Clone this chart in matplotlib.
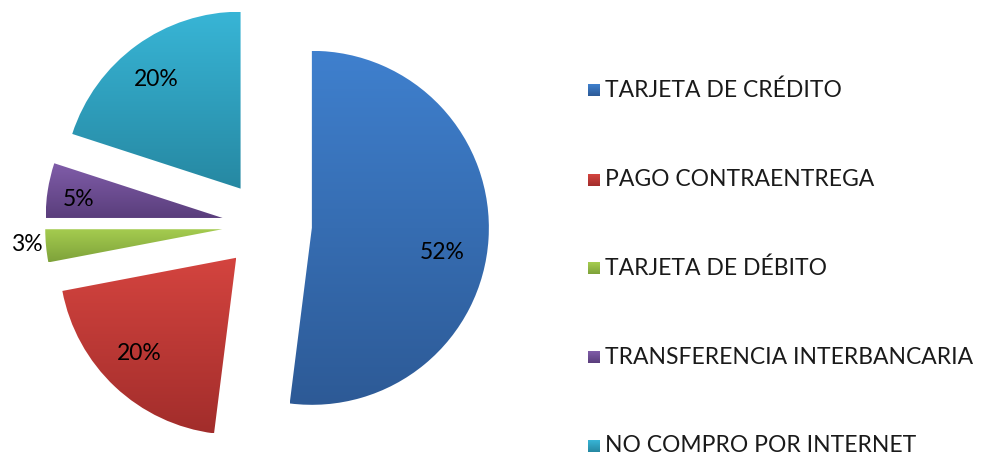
import matplotlib
matplotlib.use('Agg')
import matplotlib.pyplot as plt
import numpy as np
from matplotlib.colors import LinearSegmentedColormap

# data
labels = ['TARJETA DE CRÉDITO', 'PAGO CONTRAENTREGA', 'TARJETA DE DÉBITO',
          'TRANSFERENCIA INTERBANCARIA', 'NO COMPRO POR INTERNET']
values = [52, 20, 3, 5, 20]
pct_text = ['52%', '20%', '3%', '5%', '20%']

# gradient colours (top, bottom) per slice
grad = [('#3f80ce', '#2d5a96'),
        ('#d4443f', '#a22d2b'),
        ('#a6cd50', '#7ea23a'),
        ('#805da9', '#5a3e7c'),
        ('#38b5d6', '#2688a2')]

# label placement: distance from wedge apex (fraction of radius) and angle tweak
lab_r = [0.75, 0.77, 1.11, 0.82, 0.78]
lab_dt = [-7, -2, -1, 1.5, 1.5]

W, H = 983, 458
R_PX = 177.0
CX, CY = 267, 225
FONT = 'Lato'
FS = 16.5

fig = plt.figure(figsize=(W / 100, H / 100), dpi=100)
ax = fig.add_axes([0, 0, 1, 1])

wedges, _ = ax.pie(values, startangle=90, counterclock=False,
                   explode=[0.254] * len(values), radius=1,
                   wedgeprops=dict(linewidth=0))

for i, w in enumerate(wedges):
    w.set_facecolor('none')
    cmap = LinearSegmentedColormap.from_list('g%d' % i, [grad[i][1], grad[i][0]])
    bb = w.get_path().get_extents(w.get_transform() + ax.transData.inverted())
    img = ax.imshow(np.linspace(0, 1, 256).reshape(-1, 1), cmap=cmap,
                    extent=[bb.x0, bb.x1, bb.y0, bb.y1], origin='lower',
                    aspect='auto', zorder=2, interpolation='bilinear')
    img.set_clip_path(w)

    # percent label
    mid = np.deg2rad((w.theta1 + w.theta2) / 2 + lab_dt[i])
    cx, cy = w.center
    ax.text(cx + lab_r[i] * np.cos(mid), cy + lab_r[i] * np.sin(mid), pct_text[i],
            ha='center', va='center', fontsize=FS, family=FONT, color='black',
            zorder=5)

# legend
def px(x, y):
    return ((x - CX) / R_PX, (CY - y) / R_PX)

leg_y = [90, 180, 268, 357, 446]
sq = 12 / R_PX
for i, lab in enumerate(labels):
    x0, y0 = px(588, leg_y[i] + 6)
    cmap = LinearSegmentedColormap.from_list('l%d' % i, [grad[i][1], grad[i][0]])
    ax.imshow(np.linspace(0, 1, 64).reshape(-1, 1), cmap=cmap,
              extent=[x0, x0 + sq, y0, y0 + sq], origin='lower', aspect='auto', zorder=3)
    tx, ty = px(605, leg_y[i])
    ax.text(tx, ty, lab, ha='left', va='center', fontsize=FS, family=FONT, color='#1a1a1a')

ax.set_xlim(-CX / R_PX, (W - CX) / R_PX)
ax.set_ylim(-(H - CY) / R_PX, CY / R_PX)
ax.set_aspect('auto')
ax.axis('off')

fig.savefig('out.png', dpi=100)
